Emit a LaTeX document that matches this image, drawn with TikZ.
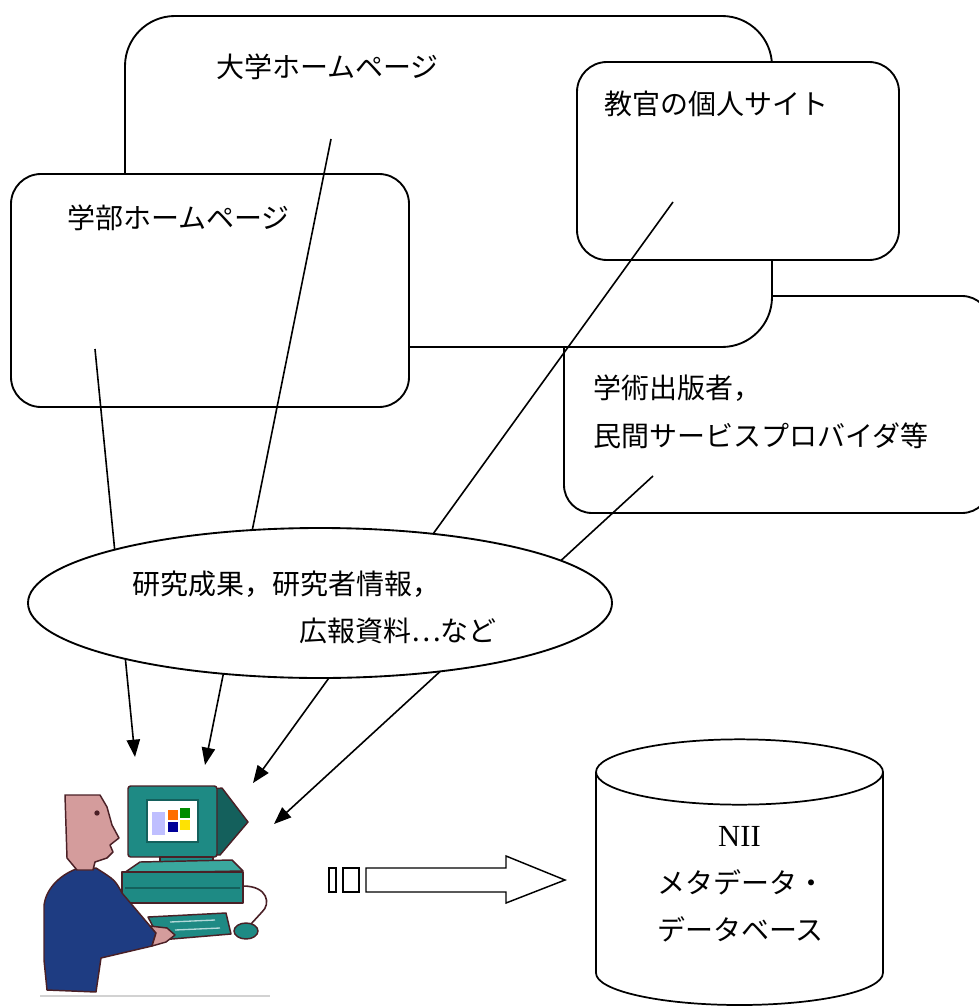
\documentclass[tikz,border=0pt]{standalone}
\usepackage{fontspec}
\setmainfont{Liberation Serif}
\newfontfamily\jpfont{Noto Sans CJK JP}
\usetikzlibrary{arrows.meta}
\definecolor{skin}{HTML}{D49C9C}
\definecolor{outl}{HTML}{4A2026}
\definecolor{navyblue}{HTML}{1E3C82}
\definecolor{tealmid}{HTML}{1E8A84}
\definecolor{tealdark}{HTML}{14605C}
\definecolor{teallight}{HTML}{3AA89E}
\newcommand{\labelsize}{\fontsize{21}{25}\selectfont}
\newcommand{\serifsize}{\fontsize{23}{27}\selectfont}
\begin{document}
\begin{tikzpicture}[x=0.75pt,y=-0.75pt,
  frame/.style={draw=black, line width=1.4pt, fill=white},
  feed/.style={draw=black, line width=1.2pt, -{Triangle[length=13pt,width=10pt]}},
  jlabel/.style={anchor=base west, inner sep=0pt, font=\jpfont\labelsize},
  iconedge/.style={draw=outl, line width=1.1pt, line join=round},
  outline/.style={draw=black, line width=1.1pt, fill=white}]
\useasboundingbox (0,0) rectangle (978,1006);

% ---- source sites (back to front) ----
\path[frame, rounded corners=21pt] (564,296) rectangle (990,513);
\path[frame, rounded corners=37.5pt] (125,16) rectangle (772,347);
\path[frame, rounded corners=22.5pt] (11,174) rectangle (409,407);
\path[frame, rounded corners=22.5pt] (577,62) rectangle (899,260);

\node[jlabel] (t-univ) at (216,78) {大学ホームページ};
\node[jlabel] (t-dept) at (67,228) {学部ホームページ};
\node[jlabel] (t-staff) at (604,114) {教官の個人サイト};
\node[jlabel] (t-pub1) at (593,398) {学術出版者，};
\node[jlabel] (t-pub2) at (593,446) {民間サービスプロバイダ等};

% ---- flows toward the collector ----
\coordinate (src-dept) at (95,349);
\coordinate (src-univ) at (331,139);
\coordinate (src-staff) at (673,202);
\coordinate (src-pub) at (653,476);
\coordinate (in-1) at (135,757);
\coordinate (in-2) at (205,765);
\coordinate (in-3) at (253,783);
\coordinate (in-4) at (274,824);
\draw[feed] (src-dept) -- (in-1);
\draw[feed] (src-univ) -- (in-2);
\draw[feed] (src-staff) -- (in-3);
\draw[feed] (src-pub) -- (in-4);

% ---- content bubble ----
\path[frame] (320,603) ellipse [x radius=219pt, y radius=56.25pt];
\node[jlabel] (t-c1) at (132,594) {研究成果，研究者情報，};
\node[jlabel] (t-c2) at (299,641) {広報資料…など};

% ---- person at a computer ----
\begin{scope}
  \draw[gray!35, line width=0.8pt] (40,996) -- (270,996);
  % monitor
  \path[iconedge, fill=tealdark] (214,789) -- (222,788) -- (248,822) -- (220,855) -- (214,855) -- cycle;
  \path[iconedge, fill=tealmid, rounded corners=2pt] (128,786) rectangle (217,857);
  \path[draw=tealdark, line width=0.8pt, fill=white] (147,800) rectangle (198,842);
  \fill[blue!25] (152,812) rectangle (165,835);
  \fill[orange!85!red] (168,810) rectangle (178,820);
  \fill[green!55!black] (180,808) rectangle (190,818);
  \fill[blue!60!black] (168,822) rectangle (178,832);
  \fill[yellow!85!orange] (180,820) rectangle (190,830);
  \path[iconedge, fill=tealmid] (160,857) rectangle (213,866);
  % base unit
  \path[iconedge, fill=teallight] (124,873) -- (140,862) -- (232,860) -- (243,871) -- cycle;
  \path[iconedge, fill=tealmid] (122,872) rectangle (243,903);
  \draw[tealdark, line width=1pt] (125,888) -- (240,888);
  % mouse and cord
  \draw[outl, line width=1.2pt] (243,886) .. controls (268,886) and (271,904) .. (262,912) .. controls (256,918) .. (251,924);
  \path[iconedge, fill=tealmid] (246,931) ellipse [x radius=9pt, y radius=6pt];
  % keyboard
  \path[iconedge, fill=tealmid] (148,917) -- (226,913) -- (231,934) -- (160,940) -- cycle;
  \draw[white!70!teal, line width=1pt] (170,922) -- (215,920) (175,930) -- (220,928);
  % body and arm
  \path[iconedge, fill=navyblue] (76,869) .. controls (58,876) and (46,890) .. (44,905)
    -- (44,960) -- (47,990) -- (96,992) -- (101,958) -- (152,946) -- (156,933)
    -- (150,926) -- (122,893) .. controls (115,880) .. (96,868) -- cycle;
  % hand
  \path[iconedge, fill=skin] (150,926) -- (167,928) -- (175,935) -- (166,942) -- (152,946) -- (156,933) -- cycle;
  % head
  \path[iconedge, fill=skin] (65,795) -- (100,795) -- (107,807) -- (112,825) -- (119,838)
    -- (110,845) -- (113,852) -- (107,858) -- (95,862) -- (93,870) -- (77,870)
    -- (67,858) -- cycle;
  \fill[outl] (97,813) circle [radius=2pt];
\end{scope}

% ---- transfer arrow ----
\path[outline] (329,868) rectangle (336,892);
\path[outline] (343,868) rectangle (359,892);
\path[outline, line join=miter] (366,868) -- (506,868) -- (506,856) -- (565,880)
  -- (506,903) -- (506,892) -- (366,892) -- cycle;

% ---- metadata database ----
\draw[black, line width=1.3pt, fill=white] (596,772) -- (596,973)
  arc [start angle=180, end angle=360, x radius=107.6pt, y radius=24pt]
  -- (883,772);
\draw[black, line width=1.3pt, fill=white] (739.5,772) ellipse [x radius=107.6pt, y radius=24.5pt];
\node[anchor=base, inner sep=0pt] (t-nii) at (739.5,846) {\serifsize NII};
\node[jlabel] (t-db1) at (657,893) {メタデータ・};
\node[jlabel] (t-db2) at (657,940) {データベース};
\end{tikzpicture}
\end{document}
